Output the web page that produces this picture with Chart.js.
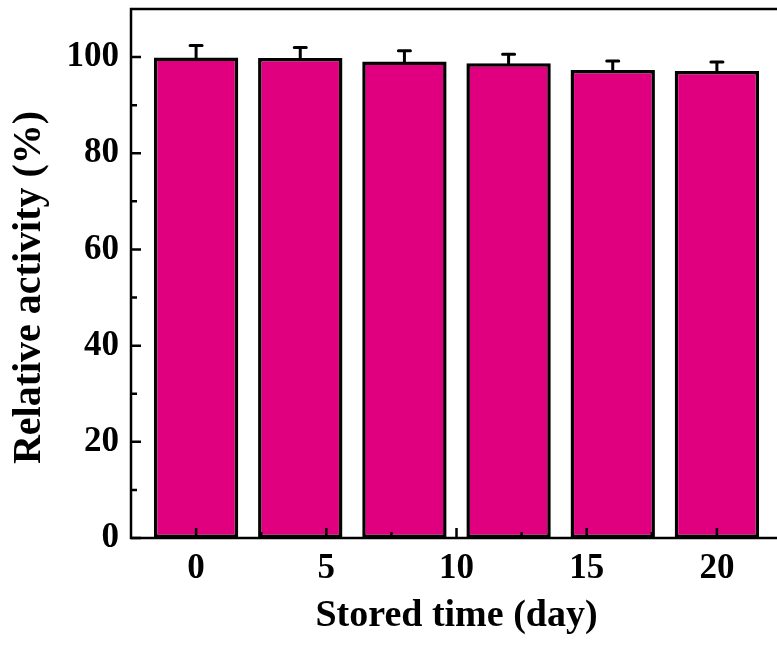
<!DOCTYPE html>
<html>
<head>
<meta charset="utf-8">
<script src="https://cdn.jsdelivr.net/npm/chart.js@4.4.1/dist/chart.umd.min.js"></script>
<style>
  html, body { margin: 0; padding: 0; background: #fff; overflow: hidden; }
  #wrap { width: 800px; height: 657px; position: relative; }
</style>
</head>
<body>
<div id="wrap"><canvas id="canvas"></canvas></div>
<script>
// stored time in days and relative activity (%)
var days = [0, 4, 8, 12, 16, 20];
var activity = [99.9, 99.8, 99.1, 98.7, 97.3, 97.1];
var errors = [2.5, 2.2, 2.2, 1.9, 1.9, 1.9];

var xTicks = [0, 5, 10, 15, 20];
var xMinor = [2.5, 7.5, 12.5, 17.5];
var yTicks = [0, 20, 40, 60, 80, 100];
var yMinor = [10, 30, 50, 70, 90];

var yTitle = 'Relative activity (%)';
var serif = "'Liberation Serif', 'Times New Roman', serif";

// frame, inward ticks, error bars and the y title
var framePlugin = {
    id: 'frame',
    afterDatasetsDraw: function(chart){
        var ctx = chart.ctx;
        var a = chart.chartArea;
        var xs = chart.scales.x;
        var ys = chart.scales.y;
        ctx.save();
        ctx.strokeStyle = '#000';

        // error bars (only the upper half shows above the bars)
        ctx.lineWidth = 3;
        ctx.lineCap = 'round';
        for (var i = 0; i < days.length; i++) {
            var x = xs.getPixelForValue(days[i]);
            var y0 = ys.getPixelForValue(activity[i]);
            var y1 = ys.getPixelForValue(activity[i] + errors[i]);
            ctx.beginPath();
            ctx.moveTo(x, y0);
            ctx.lineTo(x, y1);
            ctx.moveTo(x - 6, y1);
            ctx.lineTo(x + 6, y1);
            ctx.stroke();
        }

        ctx.lineCap = 'butt';
        ctx.lineWidth = 2.5;
        ctx.beginPath();
        xTicks.forEach(function(v){
            var px = xs.getPixelForValue(v);
            ctx.moveTo(px, a.bottom);
            ctx.lineTo(px, a.bottom - 10);
        });
        xMinor.forEach(function(v){
            var px = xs.getPixelForValue(v);
            ctx.moveTo(px, a.bottom);
            ctx.lineTo(px, a.bottom - 6);
        });
        yTicks.forEach(function(v){
            var py = ys.getPixelForValue(v);
            ctx.moveTo(a.left, py);
            ctx.lineTo(a.left + 10, py);
        });
        yMinor.forEach(function(v){
            var py = ys.getPixelForValue(v);
            ctx.moveTo(a.left, py);
            ctx.lineTo(a.left + 6, py);
        });
        ctx.stroke();

        ctx.strokeRect(a.left, a.top, a.right - a.left, a.bottom - a.top);

        // y axis title, sits a bit below the middle of the axis
        ctx.fillStyle = '#000';
        ctx.font = 'bold 40px ' + serif;
        ctx.textAlign = 'center';
        ctx.textBaseline = 'middle';
        ctx.translate(30, (a.top + a.bottom) / 2 + 14);
        ctx.rotate(-Math.PI / 2);
        ctx.fillText(yTitle, 0, 0);
        ctx.restore();
    }
};

var points = days.map(function(d, i){
    return { x: d, y: activity[i] };
});

var ctx = document.getElementById('canvas').getContext('2d');
var myChart = new Chart(ctx, {
    type: 'bar',
    data: {
        datasets: [{
            label: 'Relative activity',
            data: points,
            backgroundColor: '#E0007F',
            borderColor: '#000',
            borderWidth: 3.5,
            borderSkipped: false,
            categoryPercentage: 1,
            barPercentage: 0.81
        }]
    },
    options: {
        responsive: true,
        maintainAspectRatio: false,
        animation: false,
        layout: {
            padding: { left: 0, top: 9, right: 18, bottom: 0 }
        },
        plugins: {
            legend: { display: false },
            tooltip: { enabled: false }
        },
        scales: {
            x: {
                type: 'linear',
                offset: false,
                min: -2.5,
                max: 22.5,
                afterBuildTicks: function(scale){
                    scale.ticks = xTicks.map(function(v){ return { value: v }; });
                },
                afterFit: function(scale){
                    scale.height = 119;
                    scale.paddingLeft = 0;
                    scale.paddingRight = 0;
                },
                grid: { display: false, drawTicks: false },
                border: { display: false },
                ticks: {
                    color: '#000',
                    padding: 10,
                    maxRotation: 0,
                    font: { family: serif, size: 35, weight: 'bold' }
                },
                title: {
                    display: true,
                    text: 'Stored time (day)',
                    color: '#000',
                    padding: { top: 0, bottom: 18 },
                    font: { family: serif, size: 38, weight: 'bold' }
                }
            },
            y: {
                min: 0,
                max: 110,
                afterBuildTicks: function(scale){
                    scale.ticks = yTicks.map(function(v){ return { value: v }; });
                },
                afterFit: function(scale){
                    scale.width = 131;
                    scale.paddingTop = 0;
                    scale.paddingBottom = 0;
                },
                grid: { display: false, drawTicks: false },
                border: { display: false },
                ticks: {
                    color: '#000',
                    padding: 12,
                    font: { family: serif, size: 35, weight: 'bold' }
                },
                title: { display: false }
            }
        }
    },
    plugins: [framePlugin]
});
</script>
</body>
</html>
